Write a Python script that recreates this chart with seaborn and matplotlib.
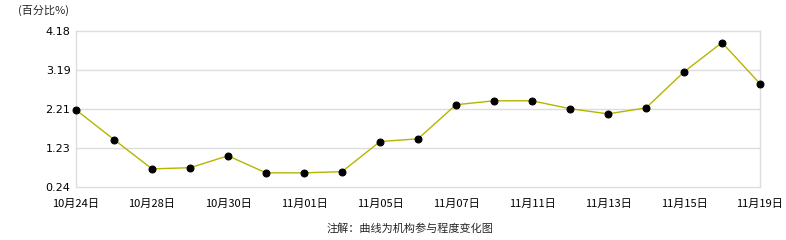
import matplotlib
matplotlib.use("Agg")
import matplotlib.pyplot as plt
import seaborn as sns
import pandas as pd

dates = ["10月24日", "10月25日", "10月28日", "10月29日", "10月30日", "10月31日",
         "11月01日", "11月04日", "11月05日", "11月06日", "11月07日", "11月08日",
         "11月11日", "11月12日", "11月13日", "11月14日", "11月15日", "11月18日", "11月19日"]
values = [2.18, 1.43, 0.69, 0.72, 1.02, 0.59, 0.59, 0.62, 1.38, 1.45,
          2.31, 2.41, 2.41, 2.21, 2.08, 2.23, 3.14, 3.88, 2.84]
yticks = [0.24, 1.23, 2.21, 3.19, 4.18]
ytick_labels = ["0.24", "1.23", "2.21", "3.19", "4.18"]

sns.set_style("white")
plt.rcParams['font.family'] = ['Noto Sans CJK SC', 'DejaVu Sans']

df = pd.DataFrame({"idx": range(len(dates)), "date": dates, "value": values})

fig = plt.figure(figsize=(7.86, 2.4), dpi=100)
ax = fig.add_axes([76/786, 1-186.7/240, (760-76)/786, (186.7-30.7)/240])

sns.lineplot(data=df, x="idx", y="value", ax=ax, color="#b5b500", linewidth=1.0,
             marker="o", markersize=5, markerfacecolor="black", markeredgecolor="black",
             clip_on=False, zorder=3)

ax.set_ylim(yticks[0], yticks[-1])
ax.set_xlim(0, len(dates) - 1)
ax.set_yticks(yticks)
ax.set_yticklabels(ytick_labels, fontsize=8, family=['DejaVu Sans'])
ax.set_xticks(range(len(dates)))
ax.set_xticklabels([d if i % 2 == 0 else "" for i, d in enumerate(dates)], fontsize=8)
ax.grid(axis="y", color="#dddddd", linewidth=1)
for gl in ax.get_ygridlines():
    gl.set_clip_on(False)
ax.set_xlabel("")
ax.set_ylabel("")
for s in ["top", "bottom"]:
    ax.spines[s].set_visible(False)
for s in ["left", "right"]:
    ax.spines[s].set_color("#dddddd")
    ax.spines[s].set_linewidth(1)
ax.tick_params(axis="x", which="both", direction="out", length=8, color="#dddddd",
               width=1, pad=1, labelcolor="black")
ax.tick_params(axis="y", length=0, pad=4, labelcolor="black")

fig.text(18/786, 1-10/240, "(百分比%)", fontsize=8, ha="left", va="center")
fig.text(410/786, 1-228/240, "注解：曲线为机构参与程度变化图", fontsize=8, ha="center", va="center")

fig.savefig("out.png", dpi=100)
